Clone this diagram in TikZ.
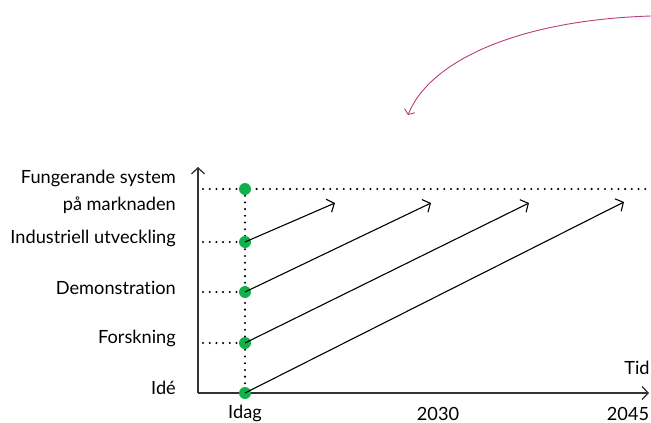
\documentclass[tikz,border=0pt]{standalone}
\usepackage{fontspec}
\setmainfont{Lato}[Ligatures={NoCommon}]
\usetikzlibrary{arrows.meta}
\definecolor{curvecol}{HTML}{B83C7C}
\definecolor{dotgreen}{HTML}{12B04A}
\definecolor{axisgray}{HTML}{333333}
\tikzset{
  axisline/.style={draw=axisgray, line width=1.3pt, -{Straight Barb[length=6pt,width=13pt]}},
  arrowline/.style={line width=1.1pt, -{Straight Barb[length=6pt,width=14pt]}},
  dotline/.style={line width=2.3pt, line cap=round, dash pattern=on 0pt off 6.7pt},
  gdot/.style={circle, fill=dotgreen, inner sep=0pt, minimum size=12pt},
  lbl/.style={anchor=east, inner sep=0pt, font=\fontsize{18.2}{21}\selectfont},
  tick/.style={inner sep=0pt, font=\fontsize{18.2}{21}\selectfont}
}
\begin{document}
\begin{tikzpicture}[x=1pt,y=-1pt]
\useasboundingbox (0,0) rectangle (651,423);
% axes
\coordinate (origin) at (198,393);
\coordinate (ytop) at (198,167);
\coordinate (xend) at (649,393);
\draw[axisline] (origin) -- (ytop);
\draw[axisline] (origin) -- (xend);
% dotted guides
\coordinate (g1) at (203,189);
\coordinate (g1e) at (651,189);
\coordinate (g2) at (203,242);
\coordinate (g3) at (203,292);
\coordinate (g4) at (203,343);
\draw[dotline] (g1) -- (g1e);
\draw[dotline] (245,189) -- (245,393);
\draw[dotline] (g2) -- (245,242);
\draw[dotline] (g3) -- (245,292);
\draw[dotline] (g4) -- (245,343);
% green dots
\node[gdot] (d1) at (245,189) {};
\node[gdot] (d2) at (245,242) {};
\node[gdot] (d3) at (245,292) {};
\node[gdot] (d4) at (245,343) {};
\node[gdot] (d5) at (245,393) {};
% arrows
\coordinate (t2) at (335,203);
\coordinate (t3) at (431,203);
\coordinate (t4) at (529,203);
\coordinate (t5) at (624,202);
\draw[arrowline] (d2.center) -- (t2);
\draw[arrowline] (d3.center) -- (t3);
\draw[arrowline] (d4.center) -- (t4);
\draw[arrowline] (d5.center) -- (t5);
% labels
\node[lbl] (l1a) at (176,178) {Fungerande system};
\node[lbl] (l1b) at (176,205) {på marknaden};
\node[lbl] (l2) at (176,238) {Industriell utveckling};
\node[lbl] (l3) at (176,288) {Demonstration};
\node[lbl] (l4) at (176,338) {Forskning};
\node[lbl] (l5) at (176,388) {Idé};
\node[tick] (x0) at (245,413) {Idag};
\node[tick] (x1) at (438,414) {2030};
\node[tick] (x2) at (628,414) {2045};
\node[tick] (tid) at (637,368) {Tid};
% magenta curve
\coordinate (cs) at (651,16);
\coordinate (ce) at (408,115);
\draw[curvecol, line width=0.9pt, -{Straight Barb[length=4pt,width=11pt]}] (cs) .. controls (520,20) and (430,60) .. (ce);
\end{tikzpicture}
\end{document}
